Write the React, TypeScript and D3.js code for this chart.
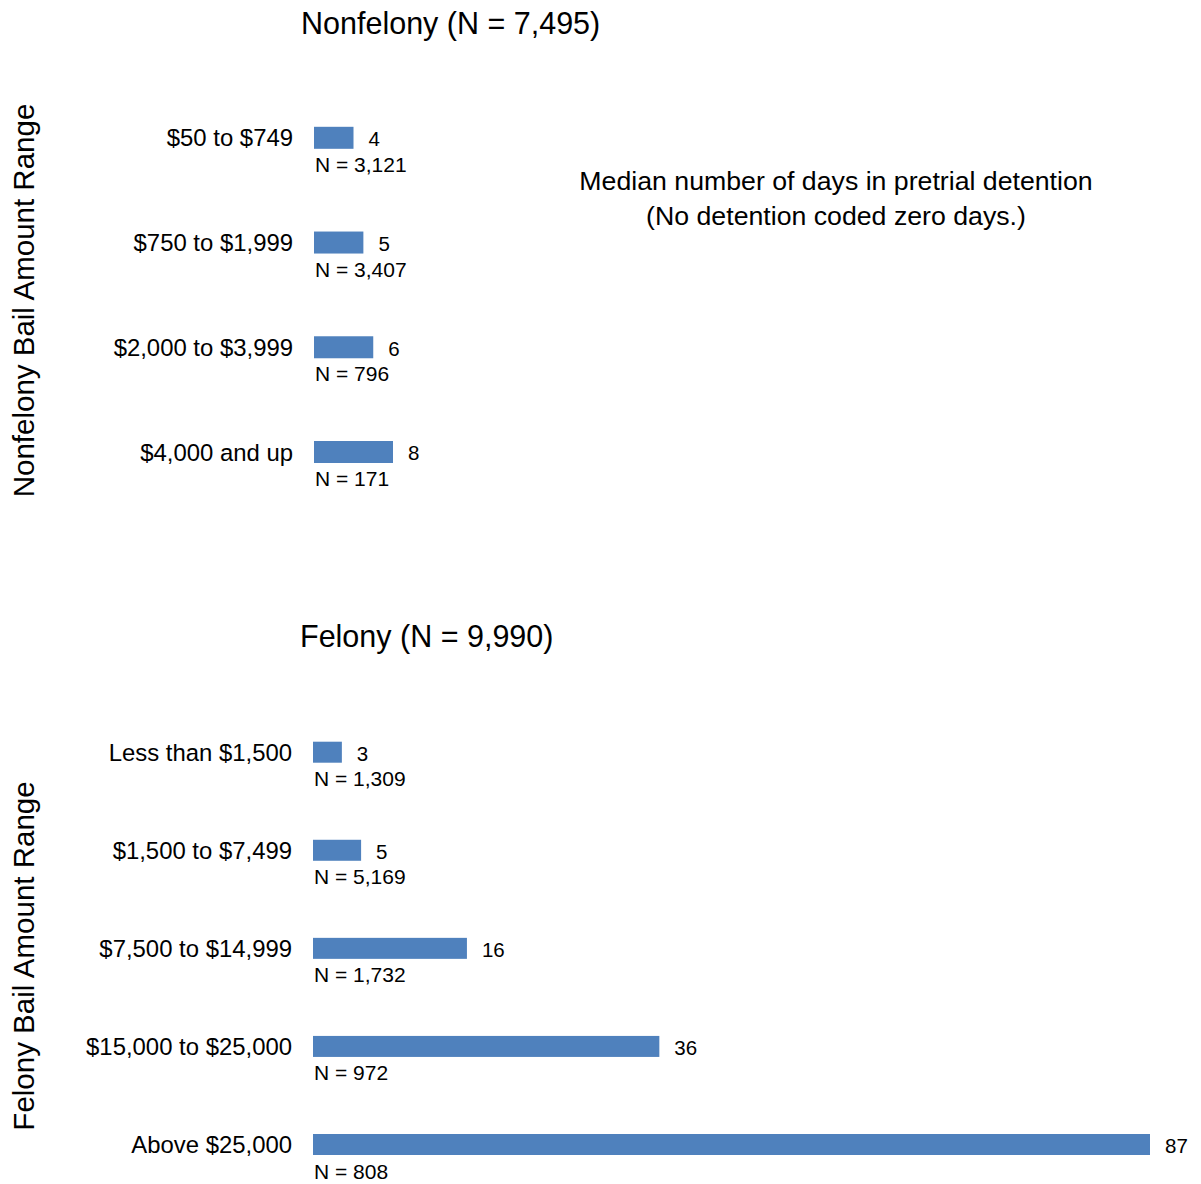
import React from "react";
import * as d3 from "d3";

const nonfelonyCategories = ["$50 to $749", "$750 to $1,999", "$2,000 to $3,999", "$4,000 and up"];
const nonfelonyValues = [4, 5, 6, 8];
const nonfelonyCounts = ["3,121", "3,407", "796", "171"];

const felonyCategories = ["Less than $1,500", "$1,500 to $7,499", "$7,500 to $14,999", "$15,000 to $25,000", "Above $25,000"];
const felonyValues = [3, 5, 16, 36, 87];
const felonyCounts = ["1,309", "5,169", "1,732", "972", "808"];

const FONT = "'Liberation Sans', Arial, Helvetica, sans-serif";
const BLUE = "#4F81BD";

type PanelProps = {
  cats: string[];
  vals: number[];
  counts: string[];
  x: d3.ScaleLinear<number, number>;
  y: d3.ScalePoint<string>;
  barH: number;
};

function Panel({ cats, vals, counts, x, y, barH }: PanelProps) {
  const x0 = x(0);
  return (
    <g>
      {cats.map((c, i) => {
        const cy = y(c) as number;
        const xe = x(vals[i]);
        return (
          <g key={c}>
            <text x={x0 - 21} y={cy} dy="0.36em" textAnchor="end" fontSize={23.9} fill="#000">
              {c}
            </text>
            <rect x={x0} y={cy - barH / 2} width={xe - x0} height={barH} fill={BLUE} />
            <text x={xe + 15} y={cy + 1} dy="0.36em" fontSize={20.5} fill="#000">
              {vals[i]}
            </text>
            <text x={x0 + 1} y={cy + 34} fontSize={21} fill="#000">
              {"N = " + counts[i]}
            </text>
          </g>
        );
      })}
    </g>
  );
}

export default function App() {
  const xTop = d3.scaleLinear().domain([0, 8]).range([314, 393]);
  const yTop = d3.scalePoint<string>().domain(nonfelonyCategories).range([137.8, 452]);
  const xBot = d3.scaleLinear().domain([0, 87]).range([313, 1150]);
  const yBot = d3.scalePoint<string>().domain(felonyCategories).range([752.2, 1144.5]);

  return (
    <svg
      width={1201}
      height={1184}
      style={{ position: "absolute", left: 0, top: 0, background: "#fff" }}
      fontFamily={FONT}
    >
      <rect x={0} y={0} width={1201} height={1184} fill="#fff" />
      <text x={301} y={34} fontSize={30.5} fill="#000">
        Nonfelony (N = 7,495)
      </text>
      <text x={300} y={647} fontSize={30.5} fill="#000">
        Felony (N = 9,990)
      </text>
      <text transform="translate(34,300.5) rotate(-90)" textAnchor="middle" fontSize={29.5} fill="#000">
        Nonfelony Bail Amount Range
      </text>
      <text transform="translate(34,956) rotate(-90)" textAnchor="middle" fontSize={29.5} fill="#000">
        Felony Bail Amount Range
      </text>
      <text x={836} y={190} textAnchor="middle" fontSize={26.7} fill="#000">
        Median number of days in pretrial detention
      </text>
      <text x={836} y={225} textAnchor="middle" fontSize={26.7} fill="#000">
        (No detention coded zero days.)
      </text>
      <Panel cats={nonfelonyCategories} vals={nonfelonyValues} counts={nonfelonyCounts} x={xTop} y={yTop} barH={22} />
      <Panel cats={felonyCategories} vals={felonyValues} counts={felonyCounts} x={xBot} y={yBot} barH={21} />
    </svg>
  );
}
